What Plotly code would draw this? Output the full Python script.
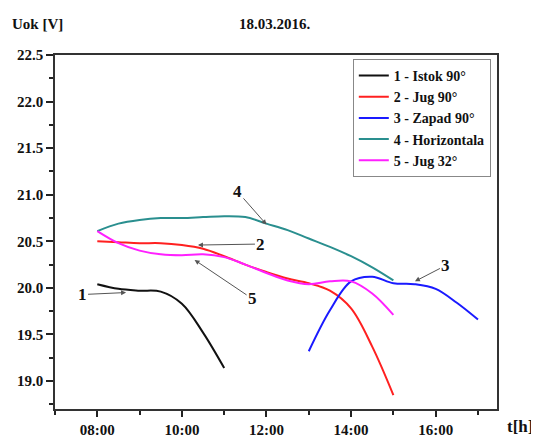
import pandas as pd
import plotly.graph_objects as go

DAY = "2016-03-18 "

t_istok = ["08:00", "08:30", "09:00", "09:30", "10:00", "10:30", "11:00"]
u_istok = [20.04, 19.99, 19.97, 19.96, 19.83, 19.52, 19.14]

t_day = ["08:00", "08:30", "09:00", "09:30", "10:00", "10:30", "11:00", "11:30",
         "12:00", "12:30", "13:00", "13:30", "14:00", "14:30", "15:00"]
u_jug90 = [20.50, 20.49, 20.48, 20.48, 20.46, 20.42, 20.34, 20.25,
           20.17, 20.10, 20.05, 19.97, 19.78, 19.37, 18.85]
u_horiz = [20.61, 20.69, 20.73, 20.75, 20.75, 20.76, 20.77, 20.76,
           20.69, 20.62, 20.53, 20.44, 20.34, 20.22, 20.08]
u_jug32 = [20.61, 20.48, 20.40, 20.36, 20.35, 20.36, 20.33, 20.25,
           20.16, 20.08, 20.04, 20.07, 20.07, 19.94, 19.71]

t_zapad = ["13:00", "13:30", "14:00", "14:30", "15:00", "15:30", "16:00", "16:30", "17:00"]
u_zapad = [19.32, 19.76, 20.07, 20.12, 20.05, 20.04, 19.99, 19.84, 19.66]

names = ["1 - Istok 90°", "2 - Jug 90°", "3 - Zapad 90°", "4 - Horizontala", "5 - Jug 32°"]
colors = ["#111111", "#ff2020", "#1a1aff", "#2a8f8f", "#ff20ff"]

# curve labels: (text, hour, voltage the arrow points to, ax, ay)
labels = [("1", 8.68, 19.95, -44, 2),
          ("2", 10.38, 20.46, 63, -1),
          ("3", 15.51, 20.07, 31, -16),
          ("4", 12.0, 20.68, -29, -33),
          ("5", 10.30, 20.30, 58, 39)]


def ts(times):
    return pd.to_datetime([DAY + t for t in times])


def hour(h):
    return pd.Timestamp(DAY + "00:00") + pd.to_timedelta(h, unit="h")


series = [(t_istok, u_istok), (t_day, u_jug90), (t_zapad, u_zapad),
          (t_day, u_horiz), (t_day, u_jug32)]

fig = go.Figure()
for (tt, uu), name, col in zip(series, names, colors):
    fig.add_trace(go.Scatter(x=ts(tt), y=uu, name=name, mode="lines",
                             line=dict(color=col, width=2, shape="spline", smoothing=1)))

bold = dict(family="Liberation Serif", size=15, color="#111111", weight="bold")
big = dict(family="Liberation Serif", size=17, color="#111111", weight="bold")

for txt, h, v, ax, ay in labels:
    fig.add_annotation(x=hour(h), y=v, text=txt, showarrow=True, ax=ax, ay=ay,
                       arrowhead=2, arrowsize=1, arrowwidth=1, arrowcolor="#555555",
                       font=big)

fig.add_annotation(xref="paper", yref="paper", x=-0.102, y=1.088, xanchor="left",
                   yanchor="middle", text="Uok [V]", showarrow=False, font=bold)
fig.add_annotation(xref="paper", yref="paper", x=0.498, y=1.088, xanchor="center",
                   yanchor="middle", text="18.03.2016.", showarrow=False, font=bold)
fig.add_annotation(xref="paper", yref="paper", x=1.085, y=-0.05, xanchor="right",
                   yanchor="middle", text="t[h]", showarrow=False, font=big)

fig.update_xaxes(type="date", range=[hour(7.0), hour(17.45)],
                 tick0=DAY + "08:00", dtick=2 * 3600000, tickformat="%H:%M",
                 ticks="outside", ticklen=6, tickcolor="#222", tickwidth=1.5,
                 minor=dict(dtick=3600000, ticks="outside", ticklen=4, tickcolor="#222"),
                 showline=True, linecolor="#333", linewidth=1.5, mirror=True,
                 showgrid=False, zeroline=False, automargin=False, tickfont=bold)
fig.update_yaxes(range=[18.7, 22.5], dtick=0.5, tickformat=".1f",
                 ticks="outside", ticklen=7, tickcolor="#222", tickwidth=1.5,
                 minor=dict(dtick=0.25, ticks="outside", ticklen=4, tickcolor="#222"),
                 showline=True, linecolor="#333", linewidth=1.5, mirror=True,
                 showgrid=False, zeroline=False, automargin=False, tickfont=bold)

# the page body adds 8px on the top and left, so the figure is 8px smaller
fig.update_layout(
    width=531, height=433,
    margin=dict(l=47, r=42, t=47, b=32),
    paper_bgcolor="white", plot_bgcolor="white",
    showlegend=True,
    legend=dict(x=0.986, y=0.989, xanchor="right", yanchor="top",
                bordercolor="#888888", borderwidth=1, bgcolor="white",
                font=dict(family="Liberation Serif", size=14, color="#111111", weight="bold"),
                tracegroupgap=0),
)

fig.write_html("out.html")
